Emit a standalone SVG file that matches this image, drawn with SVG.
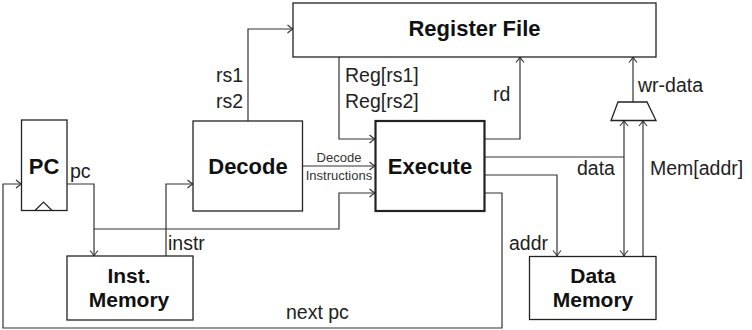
<svg xmlns="http://www.w3.org/2000/svg" width="752" height="330" viewBox="0 0 752 330">
<defs>
<marker id="arr" markerUnits="userSpaceOnUse" markerWidth="12" markerHeight="12" refX="0" refY="0" viewBox="-7 -6 8 12" orient="auto" overflow="visible">
<path d="M-5.5,-4 Q-2,-1 0,0 Q-2,1 -5.5,4" fill="none" stroke="#333" stroke-width="1.1"/>
</marker>
<style>
.box{fill:#fff;stroke:#222;stroke-width:1.3}
.thick{stroke-width:2.2}
.title{font-family:"Liberation Sans",Arial,sans-serif;font-weight:bold;font-size:22px;fill:#111;text-anchor:middle}
.t2{font-size:21px}
.lbl{font-family:"Liberation Sans",Arial,sans-serif;font-size:19.5px;fill:#222}
.small{font-family:"Liberation Sans",Arial,sans-serif;font-size:13px;fill:#333;text-anchor:middle}
.wire{fill:none;stroke:#333;stroke-width:1.2}
.a{marker-end:url(#arr)}
</style>
</defs>
<rect width="752" height="330" fill="#fff"/>
<g id="connectors">
<path class="wire a" d="M484,193 H502 V328 H3 V184 H21.5"/>
<path class="wire a" d="M67,184 H94 V256"/>
<path class="wire a" d="M94,229 H339 V193 H375"/>
<path class="wire a" d="M166,256 V184 H193"/>
<path class="wire a" d="M248,121 V29 H293"/>
<path class="wire a" d="M339,57 V139 H375"/>
<path class="wire a" d="M302,166 H375"/>
<path class="wire a" d="M484,139 H520 V57"/>
<path class="wire" d="M484,157 H624"/>
<path class="wire a" d="M624,157 V120.5"/>
<path class="wire a" d="M624,157 V256"/>
<path class="wire a" d="M643,256 V120.5"/>
<path class="wire a" d="M484,175 H557 V256"/>
<path class="wire a" d="M633,102 V57"/>
</g>
<g id="labels">
<text class="lbl" x="70" y="178">pc</text>
<text class="lbl" x="168" y="250">instr</text>
<text class="lbl" x="243" y="81.5" text-anchor="end">rs1</text>
<text class="lbl" x="243" y="108" text-anchor="end">rs2</text>
<text class="lbl" x="345" y="81.5">Reg[rs1]</text>
<text class="lbl" x="345" y="108">Reg[rs2]</text>
<text class="small" x="339" y="162">Decode</text>
<text class="small" x="339" y="180">Instructions</text>
<text class="lbl" x="493" y="100.5">rd</text>
<text class="lbl" x="638" y="91.5">wr-data</text>
<text class="lbl" x="577" y="175">data</text>
<text class="lbl" x="650" y="175">Mem[addr]</text>
<text class="lbl" x="509" y="250">addr</text>
<text class="lbl" x="286" y="319">next pc</text>
</g>
<g id="pc">
<rect class="box" x="21.5" y="120" width="45.5" height="90.5"/>
<path d="M35,210.5 L43.5,202 L52,210.5" fill="none" stroke="#222" stroke-width="1.2"/>
<text class="title" x="44" y="174">PC</text>
</g>
<g id="inst-memory">
<rect class="box" x="67" y="256" width="126" height="64"/>
<text class="title t2" x="129" y="283">Inst.</text>
<text class="title t2" x="129" y="306.5">Memory</text>
</g>
<g id="decode">
<rect class="box" x="193" y="121" width="109.5" height="90"/>
<text class="title" x="248" y="174">Decode</text>
</g>
<g id="register-file">
<rect class="box" x="293" y="3" width="363" height="54"/>
<text class="title" x="474.5" y="35.5">Register File</text>
</g>
<g id="execute">
<rect class="box thick" x="375.5" y="121" width="109" height="90"/>
<text class="title" x="430" y="173.5">Execute</text>
</g>
<g id="mux">
<polygon points="618,102 647,102 656,120.5 611,120.5" fill="#fff" stroke="#222" stroke-width="1.3"/>
</g>
<g id="data-memory">
<rect class="box" x="529.5" y="256.5" width="126.5" height="63"/>
<text class="title t2" x="593" y="283">Data</text>
<text class="title t2" x="593" y="306.5">Memory</text>
</g>
</svg>
